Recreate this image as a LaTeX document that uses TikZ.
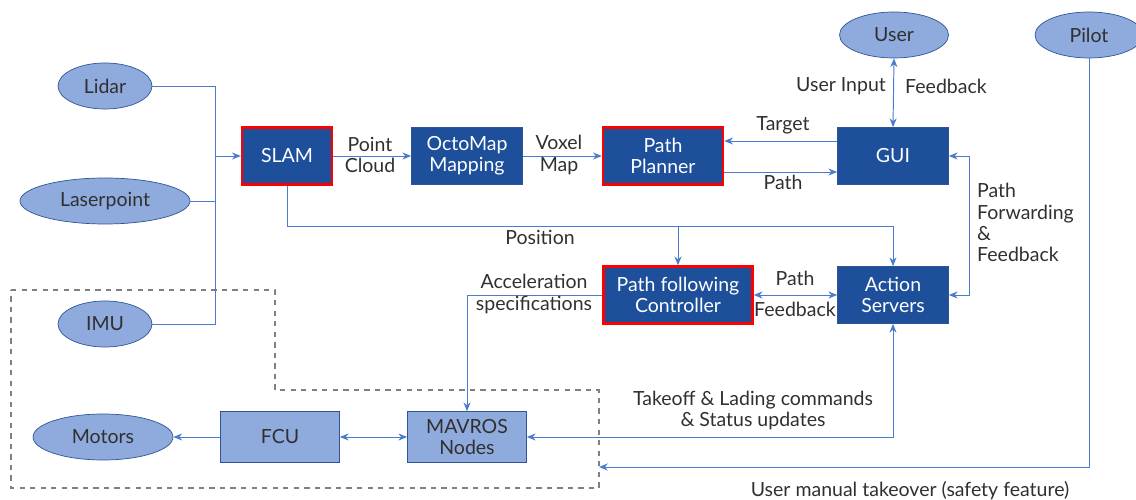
\documentclass[tikz,border=0pt]{standalone}
\usepackage{fontspec}
\setmainfont{Lato}
\usepackage{xcolor}
\usepackage{tikz}
\usetikzlibrary{
arrows.meta,
positioning,
shapes.geometric,
calc
}
\definecolor{rosblue}{HTML}{1D4F9B}
\definecolor{rosedge}{HTML}{2F5597}
\definecolor{roslight}{HTML}{8FAADC}
\definecolor{rosline}{HTML}{4A7BCF}
\definecolor{rostext}{HTML}{303030}

\tikzset{
  darkbox/.style={draw=rosedge, fill=rosblue, text=white, align=center, minimum height=1.14cm, inner sep=1pt},
  keybox/.style={darkbox, draw=red, line width=1.4pt},
  lightbox/.style={draw=rosedge, fill=roslight, text=rostext, align=center, minimum width=2.38cm, minimum height=1.02cm, inner sep=1pt},
  sensor/.style={ellipse, draw=rosedge, fill=roslight, text=rostext, minimum height=0.92cm, inner sep=0pt},
  link/.style={draw=rosline, line width=0.55pt},
  lbl/.style={text=rostext, align=center}
}

\begin{document}
\begin{tikzpicture}[>={Stealth[length=5pt,width=4pt]}, font=\fontsize{11.1}{12}\selectfont]

\useasboundingbox (0,0) rectangle (22.72,-10);

% Onboard part (dashed outline)
\draw[dashed, gray, line width=0.6pt] (0.22,-5.8) -- (5.5,-5.8) -- (5.5,-7.8) -- (11.98,-7.8)
  -- (11.98,-9.76) -- (0.22,-9.76) -- cycle;

% Sensors
\node[sensor, minimum width=1.88cm] (lidar) at (2.1,-1.72) {Lidar};
\node[sensor, minimum width=3.4cm] (laser) at (2.1,-4.02) {Laserpoint};
\node[sensor, minimum width=1.88cm] (imu) at (2.1,-6.48) {IMU};
\node[sensor, minimum width=2.18cm] (user) at (17.88,-0.7) {User};
\node[sensor, minimum width=2.16cm] (pilot) at (21.78,-0.7) {Pilot};
\node[sensor, minimum width=2.8cm] (motors) at (2.06,-8.74) {Motors};

% Processing blocks
\node[keybox, minimum width=1.8cm] (slam) at (5.74,-3.12) {SLAM};
\node[darkbox, minimum width=2.22cm] (octo) at (9.34,-3.12) {OctoMap\\Mapping};
\node[keybox, minimum width=2.4cm] (planner) at (13.26,-3.12) {Path\\Planner};
\node[darkbox, minimum width=2.22cm] (gui) at (17.86,-3.12) {GUI};
\node[keybox, minimum width=2.98cm] (ctrl) at (13.56,-5.9) {Path following\\Controller};
\node[darkbox, minimum width=2.22cm] (action) at (17.86,-5.9) {Action\\Servers};
\node[lightbox] (mavros) at (9.34,-8.74) {MAVROS\\Nodes};
\node[lightbox] (fcu) at (5.6,-8.74) {FCU};

% Sensor bus into SLAM
\coordinate (bus) at (4.3,-3.12);
\draw[link] (lidar.east) -| (bus);
\draw[link] (laser.east) -| (bus);
\draw[link] (imu.east) -| (bus);
\draw[link, ->] (bus) -- (slam.west);

% Mapping chain
\draw[link, ->] (slam.east) -- (octo.west);
\node[lbl] (cloudlbl) at (7.4,-3.1) {Point\\Cloud};
\draw[link, ->] (octo.east) -- (planner.west);
\node[lbl] (voxellbl) at (11.18,-3.1) {Voxel\\Map};

% Planner and GUI
\draw[link, ->] ([yshift=0.3cm]gui.west) -- ([yshift=0.3cm]planner.east);
\node[lbl] (targetlbl) at (15.66,-2.5) {Target};
\draw[link, ->] ([yshift=-0.32cm]planner.east) -- ([yshift=-0.32cm]gui.west);
\node[lbl] (pathlbl) at (15.66,-3.64) {Path};
\draw[link, <->] (user.south) -- (gui.north);
\node[lbl] (inputlbl) at (16.82,-1.72) {User Input};
\node[lbl] (backlbl) at (18.92,-1.72) {Feedback};

% Path forwarding
\draw[link, <->] (gui.east) -- ++(0.42,0) |- (action.east);
\node[lbl, anchor=west, align=left] (fwdlbl) at (19.42,-4.45) {Path\\Forwarding\\\&\\Feedback};

% Position
\coordinate (posbend) at (5.74,-4.52);
\draw[link, ->] (slam.south) -- (posbend) -| (action.north);
\draw[link, ->] (ctrl.north |- posbend) -- (ctrl.north);
\node[lbl] (poslbl) at (10.8,-4.74) {Position};

% Controller and action servers
\draw[link, <->] (ctrl.east) -- (action.west);
\node[lbl] (ctrlpath) at (15.9,-5.56) {Path};
\node[lbl] (ctrlback) at (15.9,-6.18) {Feedback};
\draw[link, ->] (ctrl.west) -| (mavros.north);
\node[lbl] (acclbl) at (10.68,-5.88) {Acceleration\\specifications};

% Onboard links
\draw[link, <->] (mavros.east) -| (action.south);
\node[lbl] (cmdlbl) at (15.06,-8.21) {Takeoff \& Lading commands\\\& Status updates};
\draw[link, <->] (fcu.east) -- (mavros.west);
\draw[link, ->] (fcu.west) -- (motors.east);

% Manual takeover
\coordinate (takeover) at (11.98,-9.34);
\draw[link, ->] (pilot.south) |- (takeover);
\node[lbl] (manuallbl) at (18.2,-9.82) {User manual takeover (safety feature)};

\end{tikzpicture}
\end{document}
